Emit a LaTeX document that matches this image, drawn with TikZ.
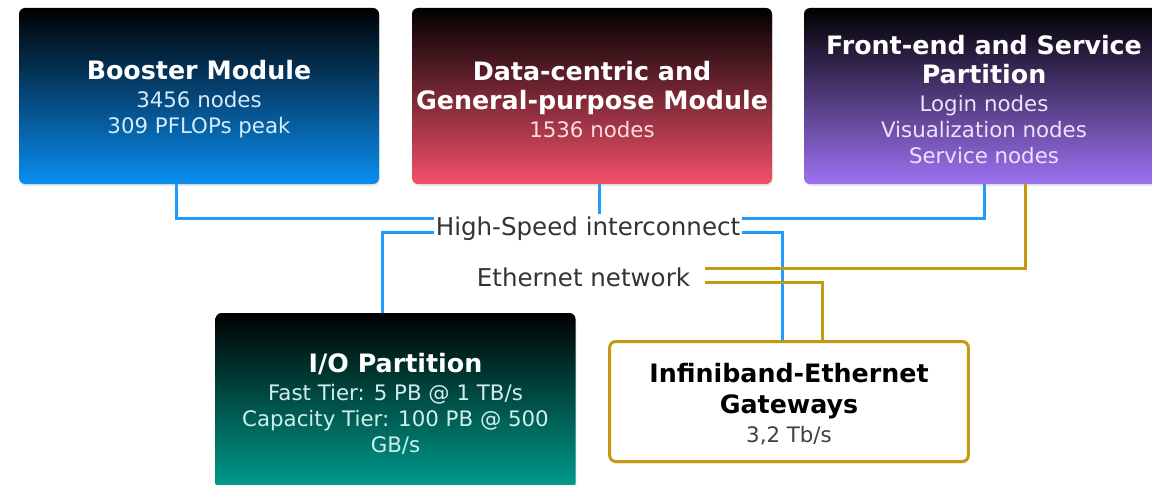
\documentclass[tikz,border=0pt]{standalone}
\usepackage{fontspec}
\setmainfont{DejaVu Sans}
\usetikzlibrary{shadows}

\definecolor{boostblue}{HTML}{0A8EF2}
\definecolor{datared}{HTML}{F2506A}
\definecolor{frontpurple}{HTML}{9D72F2}
\definecolor{ioteal}{HTML}{009E8E}
\definecolor{linkblue}{HTML}{1E9BFF}
\definecolor{ethgold}{HTML}{C49A14}
\colorlet{subcol}{white}

\newcommand{\boxhead}[1]{{\fontsize{19}{22}\selectfont\bfseries\rule{0pt}{19pt}#1}}
\newcommand{\subtext}[1]{{\color{subcol}#1}}

\begin{document}
\begin{tikzpicture}[x=0.75pt, y=-0.75pt,
    modbox/.style={rectangle, rounded corners=4.5pt, minimum width=270pt, minimum height=132pt,
                   align=center, text=white, inner sep=2pt, font=\fontsize{16}{19.5}\selectfont,
                   drop shadow={opacity=0.18, shadow xshift=0.6pt, shadow yshift=-1.5pt}},
    gatebox/.style={modbox, fill=white, draw=ethgold, line width=2.25pt, text=black,
                    minimum width=269pt, minimum height=90pt},
    subtint/.code={\colorlet{subcol}{#1}},
    netlabel/.style={text=black!80, font=\fontsize{18.4}{22}\selectfont, inner ysep=2pt},
    hsnet/.style={draw=linkblue, line width=2.25pt},
    ethnet/.style={draw=ethgold, line width=2.25pt}]
\useasboundingbox (0,0) rectangle (1152,485);
\clip (0,0) rectangle (1152,485);

% compute modules
\node[modbox, top color=black, bottom color=boostblue, subtint=white!82!boostblue] (booster) at (199,96)
    {\boxhead{Booster Module}\\[1.5pt] \subtext{3456 nodes}\\ \subtext{309 PFLOPs peak}};
\node[modbox, top color=black, bottom color=datared, subtint=white!80!datared] (datamod) at (592,96)
    {\boxhead{Data-centric and}\\[2.25pt] \boxhead{General-purpose Module}\\[1.5pt] \subtext{1536 nodes}};
\node[modbox, top color=black, bottom color=frontpurple, subtint=white!80!frontpurple] (frontend) at (984,96)
    {\boxhead{Front-end and Service}\\[2.25pt] \boxhead{Partition}\\[1.5pt] \subtext{Login nodes}\\
     \subtext{Visualization nodes}\\ \subtext{Service nodes}};

% storage and gateways
\node[modbox, top color=black, bottom color=ioteal, subtint=white!82!ioteal] (iopart) at (395.5,401)
    {\boxhead{I/O Partition}\\[1.5pt] \subtext{Fast Tier: 5 PB @ 1 TB/s}\\
     \subtext{Capacity Tier: 100 PB @ 500}\\ \subtext{GB/s}};
\node[gatebox, subtint=black!75] (gateway) at (789,401.5)
    {\boxhead{Infiniband-Ethernet}\\[3.75pt] \boxhead{Gateways}\\[2.25pt] \subtext{3,2 Tb/s}};

% networks
\node[netlabel, inner xsep=1.5pt] (hsi) at (588,229) {High-Speed interconnect};
\node[netlabel, inner xsep=11.25pt] (eth) at (583.5,277) {Ethernet network};

\draw[hsnet] ([xshift=-17.25pt]booster.south) |- ([yshift=8.25pt]hsi.west);
\draw[hsnet] ([xshift=5.25pt]datamod.south) -- ([xshift=5.25pt]datamod.south |- hsi.north);
\draw[hsnet] (frontend.south) |- ([yshift=8.25pt]hsi.east);
\draw[hsnet] ([yshift=-2.25pt]hsi.west) -| ([xshift=-10.125pt]iopart.north);
\draw[hsnet] ([yshift=-2.25pt]hsi.east) -| ([xshift=-5.25pt]gateway.north);
\draw[ethnet] ([xshift=30.75pt]frontend.south) |- ([yshift=6.75pt]eth.east);
\draw[ethnet] ([yshift=-3.75pt]eth.east) -| ([xshift=24.75pt]gateway.north);
\end{tikzpicture}
\end{document}
